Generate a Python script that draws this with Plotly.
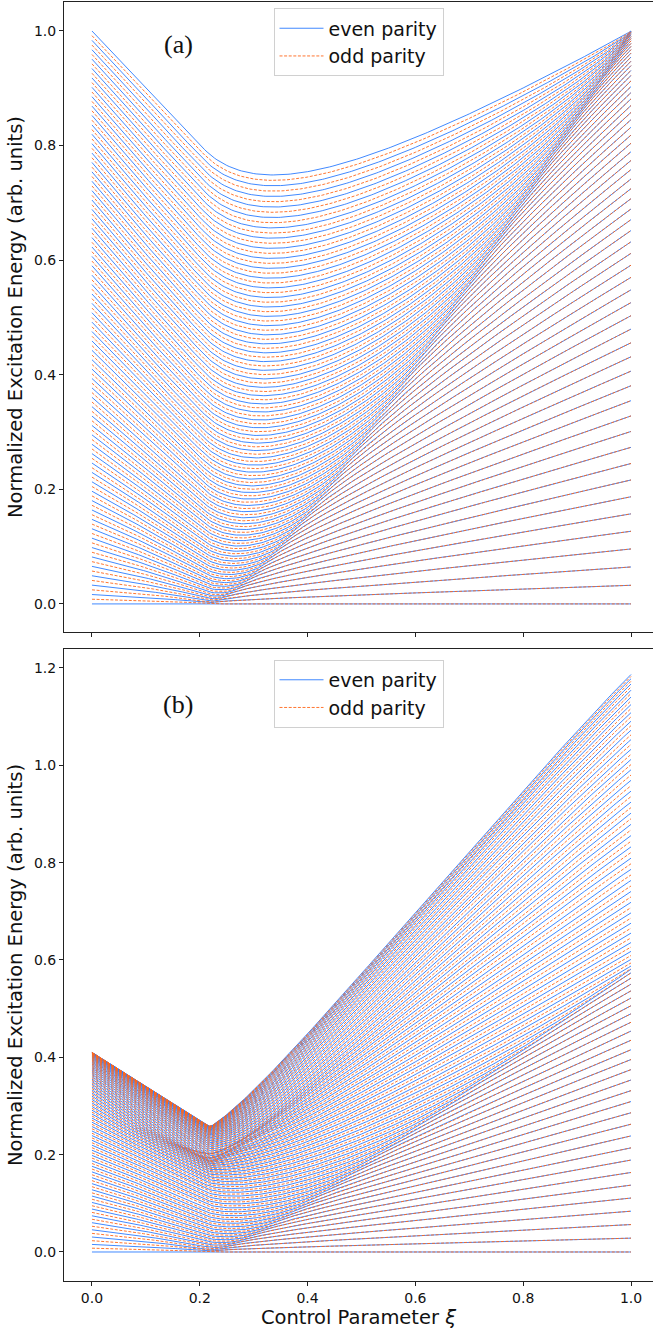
import numpy as np
import plotly.graph_objects as go

# ---------------------------------------------------------------
# Grid of the control parameter and model sizes
# ---------------------------------------------------------------
XI = np.linspace(0.0, 1.0, 221)

N_A = 122          # boson number, model (a)
N_B = 120          # boson number, model (b)
XI_C = 0.2         # critical point of both models

# model (b) landmarks (normalized energies)
B_TOP0 = 0.41      # top of the spectrum at xi = 0
B_SADDLE1 = 0.57   # saddle (ESQPT) energy above the ground state at xi = 1
B_TOP1 = 1.18      # top of the spectrum at xi = 1
B_EXP = 2.3        # anharmonicity of the xi = 0 spectrum
B_WIDTH = 0.45     # width of the diagonal part of the xi = 1 Hamiltonian
B_DIP = 0.20       # depression of the upper levels around the critical region
B_DIP_XI = 0.22    # where that depression is strongest

# axis ticks
TICKS_X = [0.0, 0.2, 0.4, 0.6, 0.8, 1.0]
TICKS_YA = [0.0, 0.2, 0.4, 0.6, 0.8, 1.0]
TICKS_YB = [0.0, 0.2, 0.4, 0.6, 0.8, 1.0, 1.2]

BLUE = "#2b7cff"
ORANGE = "#ff661a"


def q_operator(N):
    """Q = s^dag t + t^dag s in the |n_t> basis."""
    n = np.arange(N)
    off = np.sqrt((n + 1.0) * (N - n))
    return np.diag(off, 1) + np.diag(off, -1)


def parity_spectrum(hamiltonian, N):
    """Excitation energies split into even / odd n_t blocks."""
    n = np.arange(N + 1)
    ev_idx = np.where(n % 2 == 0)[0]
    od_idx = np.where(n % 2 == 1)[0]
    even, odd = [], []
    for xi in XI:
        H = hamiltonian(xi)
        e = np.linalg.eigvalsh(H[np.ix_(ev_idx, ev_idx)])
        o = np.linalg.eigvalsh(H[np.ix_(od_idx, od_idx)])
        g = min(e.min(), o.min())
        even.append(e - g)
        odd.append(o - g)
    return np.array(even), np.array(odd)


# ---- model (a): two-level boson (Lipkin) model -----------------
QA = q_operator(N_A)
QA2 = QA @ QA / N_A**2
NA_DIAG = np.diag(np.arange(N_A + 1) / N_A)


def ham_a(xi):
    return (1.0 - xi) * NA_DIAG - xi * QA2


# ---- model (b): anharmonic version with a saddle below the top -
QB = q_operator(N_B)
QB2 = QB @ QB / N_B**2
xb = np.arange(N_B + 1) / N_B
alpha_b = B_TOP0 * B_EXP
w_b = alpha_b * (1.0 - XI_C) / XI_C
A_B = np.diag(B_TOP0 * (1.0 - (1.0 - xb) ** B_EXP))
P_B = np.diag((B_TOP1 - B_SADDLE1) * (1.0 - np.exp(-(xb / B_WIDTH) ** 2)))
S_B = np.diag(1.0 / (1.0 + np.exp(-(xb - 0.4) / 0.06)))
# lowers the upper (non-localized) levels only, vanishing in the wells
DIP_OP = S_B - 0.5 * (S_B @ QB2 + QB2 @ S_B)


def dip(xi):
    return min(xi / B_DIP_XI, ((1.0 - xi) / (1.0 - B_DIP_XI)) ** 1.3)


def ham_b(xi):
    return ((1.0 - xi) * A_B + xi * (P_B - 0.25 * w_b * QB2)
            - B_DIP * dip(xi) * DIP_OP)


EA_EVEN, EA_ODD = parity_spectrum(ham_a, N_A)
EB_EVEN, EB_ODD = parity_spectrum(ham_b, N_B)

fig = go.Figure()


def add_levels(even, odd, xaxis, yaxis, legend):
    for k in range(even.shape[1]):
        fig.add_trace(go.Scatter(
            x=XI, y=even[:, k], mode="lines", xaxis=xaxis, yaxis=yaxis,
            line=dict(color=BLUE, width=0.9),
            name="even parity", legend=legend, legendgroup=legend + "e",
            showlegend=(k == 0), hoverinfo="skip"))
    for k in range(odd.shape[1]):
        fig.add_trace(go.Scatter(
            x=XI, y=odd[:, k], mode="lines", xaxis=xaxis, yaxis=yaxis,
            line=dict(color=ORANGE, width=0.9, dash="3px,1.6px"),
            name="odd parity", legend=legend, legendgroup=legend + "o",
            showlegend=(k == 0), hoverinfo="skip"))


add_levels(EA_EVEN, EA_ODD, "x", "y", "legend")
add_levels(EB_EVEN, EB_ODD, "x2", "y2", "legend2")

FONT = "DejaVu Sans"
axis_common = dict(showline=True, linecolor="#222", linewidth=1,
                   ticks="outside", ticklen=4, tickcolor="#222",
                   showgrid=False, zeroline=False,
                   tickfont=dict(family=FONT, size=14, color="#111"))

x_range = [-0.0519, 1.0408]
ytitle = dict(text="Normalized Excitation Energy (arb. units)",
              font=dict(family=FONT, size=19.5, color="#111"), standoff=6)

legend_style = dict(xanchor="center", yanchor="top", x=0.5,
                    bgcolor="rgba(255,255,255,0.85)", bordercolor="#d0d0d0",
                    borderwidth=1, font=dict(family=FONT, size=19, color="#111"),
                    tracegroupgap=0, itemwidth=44)

fig.update_layout(
    width=654, height=1333,
    margin=dict(l=64, r=1, t=2, b=52),
    paper_bgcolor="white", plot_bgcolor="white",
    showlegend=True,
    xaxis=dict(axis_common, anchor="y", range=x_range, tickvals=TICKS_X,
               showticklabels=False, mirror=True),
    yaxis=dict(axis_common, domain=[0.50743, 1.0], range=[-0.049, 1.0506],
               tickvals=TICKS_YA, tickformat=".1f", title=ytitle),
    xaxis2=dict(axis_common, anchor="y2", range=x_range, tickvals=TICKS_X,
                tickformat=".1f", mirror=True,
                title=dict(text="Control Parameter <i>ξ</i>",
                           font=dict(family=FONT, size=19.5, color="#111"),
                           standoff=4)),
    yaxis2=dict(axis_common, domain=[0.0, 0.49414], range=[-0.0596, 1.239],
                tickvals=TICKS_YB, tickformat=".1f", title=ytitle),
    legend=dict(legend_style, y=0.995),
    legend2=dict(legend_style, y=0.4856),
    annotations=[
        dict(text="(a)", x=0.16, y=0.976, xref="x", yref="y", showarrow=False,
             font=dict(family="Liberation Serif", size=26, color="#111")),
        dict(text="(b)", x=0.16, y=1.124, xref="x2", yref="y2", showarrow=False,
             font=dict(family="Liberation Serif", size=26, color="#111")),
    ],
)

fig.write_html("out.html")
